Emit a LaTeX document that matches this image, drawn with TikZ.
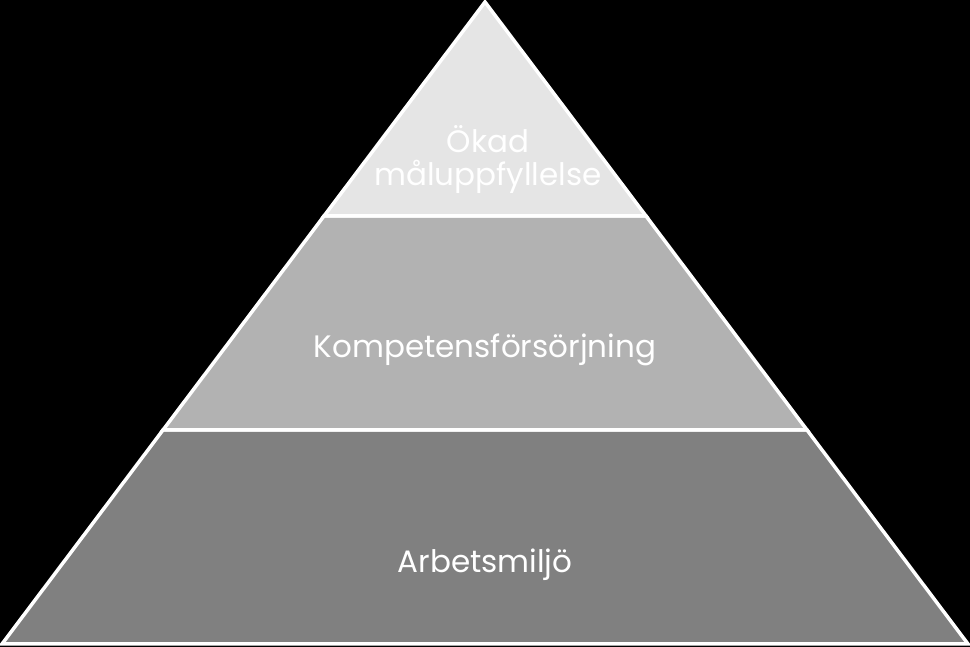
\documentclass[tikz,border=0pt]{standalone}
\usepackage{fontspec}
\setmainfont{Poppins}
\usetikzlibrary{calc}

\begin{document}
\begin{tikzpicture}[x=1pt, y=1pt,
    level/.style={draw=white, line width=3.5pt, line join=miter},
    lbl/.style={text=white, align=center, font=\fontsize{31}{33}\selectfont}]
% black background, fixes the size
\fill[black] (0,0) rectangle (970,647);
\useasboundingbox (0,0) rectangle (970,647);

% corners of the pyramid
\coordinate (apex) at (485,645);
\coordinate (bl) at (2,3);
\coordinate (br) at (968,3);
\coordinate (l1) at ($(apex)!1/3!(bl)$);
\coordinate (r1) at ($(apex)!1/3!(br)$);
\coordinate (l2) at ($(apex)!2/3!(bl)$);
\coordinate (r2) at ($(apex)!2/3!(br)$);

% levels, bottom to top
\filldraw[level, fill=black!50] (l2) -- (r2) -- (br) -- (bl) -- cycle;
\filldraw[level, fill=black!30] (l1) -- (r1) -- (r2) -- (l2) -- cycle;
\filldraw[level, fill=black!10] (apex) -- (r1) -- (l1) -- cycle;

% labels
\node[lbl] (goal) at (488,487) {Ökad\\måluppfyllelse};
\node[lbl] (skills) at (485,297) {Kompetensförsörjning};
\node[lbl] (work) at (485,82) {Arbetsmiljö};

\end{tikzpicture}
\end{document}
